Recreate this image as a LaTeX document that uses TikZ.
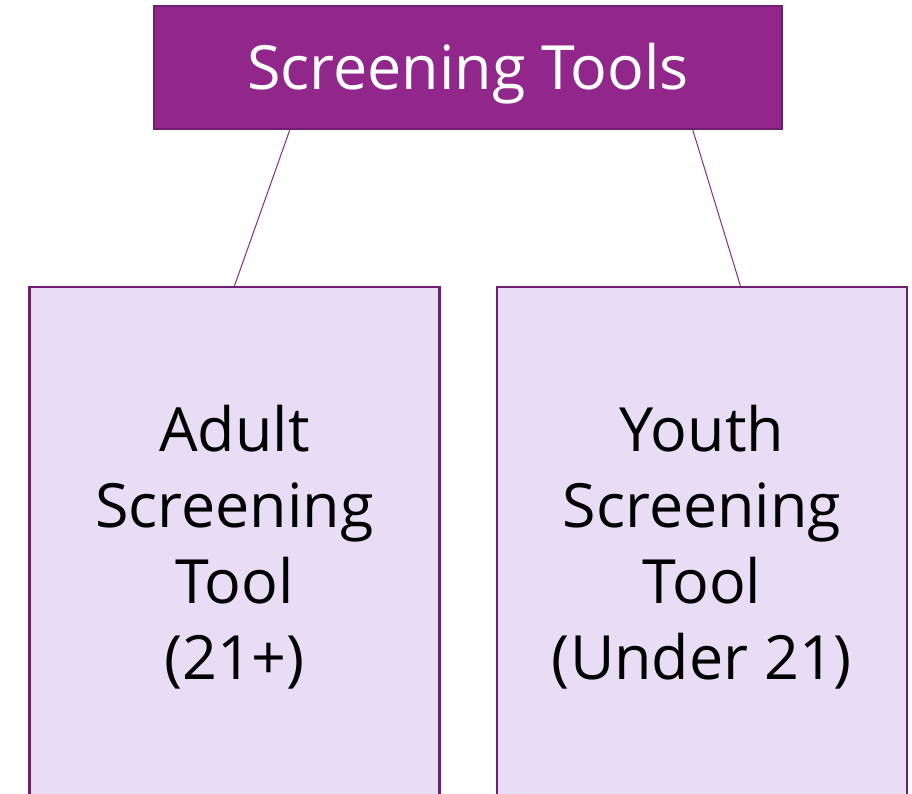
\documentclass[tikz,border=0pt]{standalone}
\usepackage{fontspec}
\setmainfont{Open Sans}
\usetikzlibrary{positioning, calc}
\definecolor{toolpurple}{RGB}{145,38,139}
\definecolor{tooldark}{RGB}{112,30,112}
\definecolor{toollilac}{RGB}{233,220,245}
\tikzset{
  headbox/.style={rectangle, draw=tooldark, line width=1.5pt, fill=toolpurple,
    text=white, minimum width=628pt, minimum height=123pt,
    font=\fontsize{61}{70}\selectfont},
  agebox/.style={rectangle, draw=tooldark, line width=2.5pt, fill=toollilac,
    minimum width=410pt, minimum height=520pt, align=center,
    font=\fontsize{61}{76}\selectfont},
  link/.style={draw=toolpurple, line width=1pt}
}
\begin{document}
\begin{tikzpicture}[x=1pt, y=-1pt]
  \useasboundingbox (0,0) rectangle (912,793);
  \clip (0,0) rectangle (912,793);

  \node[headbox] (head) at (468,67.5)
    {\raisebox{-6pt}[\height][\depth]{Screening Tools}};
  \node[agebox] (adult) at (234.5,547) {Adult\\Screening\\Tool\\(21+)};
  \node[agebox] (youth) at (702,547) {Youth\\Screening\\Tool\\(Under 21)};

  % links from the header down to both boxes
  \draw[link] ($(head.south west)!0.217!(head.south east)$) -- (adult.north);
  \draw[link] ($(head.south west)!0.857!(head.south east)$)
    -- ($(youth.north west)!0.593!(youth.north east)$);
\end{tikzpicture}
\end{document}
